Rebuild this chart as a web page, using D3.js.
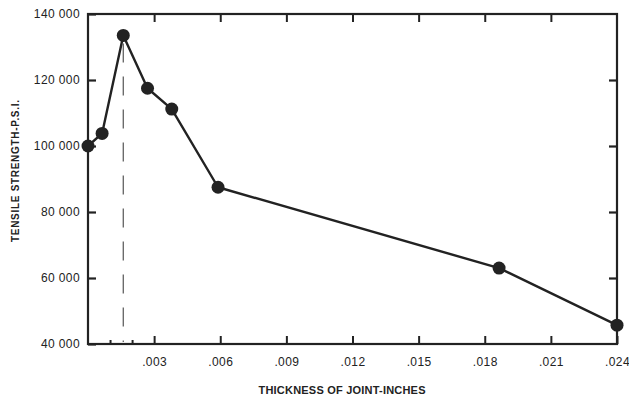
<!DOCTYPE html>
<html>
<head>
<meta charset="utf-8">
<script src="https://cdn.jsdelivr.net/npm/d3@7"></script>
<style>
  body { margin: 0; background: #fff; }
  text { font-family: "Liberation Sans", Arial, sans-serif; fill: #222; }
</style>
</head>
<body>
<div id="chart"></div>
<script>
// data
const thickness = [0, 0.00064, 0.0016, 0.0027, 0.0038, 0.0059, 0.01865, 0.024]
const strength = [100000, 103800, 133500, 117500, 111200, 87500, 63000, 45700]
const xTicks = [0.003, 0.006, 0.009, 0.012, 0.015, 0.018, 0.021, 0.024]
const xMinorTicks = [0.001, 0.002]
const yTicks = [40000, 60000, 80000, 100000, 120000, 140000]
const peakX = 0.0016

const width = 629, height = 396
const margin = [14, 12, 52, 88] // top right bottom left
const ink = "#222"

const x = d3.scaleLinear().domain([0, 0.024]).range([margin[3], width - margin[1]])
const y = d3.scaleLinear().domain([40000, 140000]).range([height - margin[2], margin[0]])

const svg = d3.select("#chart").append("svg")
  .attr("width", width)
  .attr("height", height)

const fmtY = d => d3.format(",")(d).replace(",", " ")
const fmtX = d => d3.format(".3f")(d).replace(/^0/, "")

// bottom axis, ticks point inward
svg.append("g")
  .attr("transform", `translate(0,${y(40000)})`)
  .call(d3.axisBottom(x).tickValues(xTicks).tickFormat(fmtX).tickSize(-8).tickSizeOuter(0).tickPadding(11))
  .call(g => g.select(".domain").remove())
  .call(g => g.selectAll(".tick line").attr("stroke", ink).attr("stroke-width", 2))
  .call(g => g.selectAll(".tick text").attr("font-size", 12).attr("letter-spacing", 0.4).attr("dy", "0.9em"))
svg.append("g")
  .attr("transform", `translate(0,${y(40000)})`)
  .call(d3.axisBottom(x).tickValues(xMinorTicks).tickFormat("").tickSize(-4).tickSizeOuter(0))
  .call(g => g.select(".domain").remove())
  .call(g => g.selectAll(".tick line").attr("stroke", ink).attr("stroke-width", 2))

// top ticks
svg.append("g")
  .attr("transform", `translate(0,${y(140000)})`)
  .call(d3.axisTop(x).tickValues(xTicks.slice(0, -1)).tickFormat("").tickSize(-8).tickSizeOuter(0))
  .call(g => g.select(".domain").remove())
  .call(g => g.selectAll(".tick line").attr("stroke", ink).attr("stroke-width", 2))

// left axis
svg.append("g")
  .attr("transform", `translate(${x(0)},0)`)
  .call(d3.axisLeft(y).tickValues(yTicks).tickFormat(fmtY).tickSize(-8).tickSizeOuter(0).tickPadding(8))
  .call(g => g.select(".domain").remove())
  .call(g => g.selectAll(".tick line").attr("stroke", ink).attr("stroke-width", 2.2))
  .call(g => g.selectAll(".tick text").attr("font-size", 12).attr("letter-spacing", 0.4))

// right ticks
svg.append("g")
  .attr("transform", `translate(${x(0.024)},0)`)
  .call(d3.axisRight(y).tickValues(yTicks.slice(1, -1)).tickFormat("").tickSize(-8).tickSizeOuter(0))
  .call(g => g.select(".domain").remove())
  .call(g => g.selectAll(".tick line").attr("stroke", ink).attr("stroke-width", 2.2))

// frame
svg.append("rect")
  .attr("x", x(0))
  .attr("y", y(140000))
  .attr("width", x(0.024) - x(0))
  .attr("height", y(40000) - y(140000))
  .attr("fill", "none")
  .attr("stroke", ink)
  .attr("stroke-width", 2.2)

// dashed drop line from the peak
svg.append("line")
  .attr("x1", x(peakX))
  .attr("x2", x(peakX))
  .attr("y1", y(strength[2]) + 8)
  .attr("y2", y(40000) - 2)
  .attr("stroke", "#555")
  .attr("stroke-width", 1.2)
  .attr("stroke-dasharray", "19,14")

const I = d3.range(thickness.length)
const line = d3.line()
  .x(i => x(thickness[i]))
  .y(i => y(strength[i]))

svg.append("path")
  .attr("d", line(I))
  .attr("fill", "none")
  .attr("stroke", ink)
  .attr("stroke-width", 2.4)
  .attr("stroke-linejoin", "round")

svg.append("g")
  .selectAll("circle")
  .data(I)
  .join("circle")
  .attr("cx", i => x(thickness[i]))
  .attr("cy", i => y(strength[i]))
  .attr("r", 6.5)
  .attr("fill", ink)

// axis titles
svg.append("text")
  .attr("x", 342)
  .attr("y", 394)
  .attr("text-anchor", "middle")
  .attr("font-size", 11)
  .attr("font-weight", "bold")
  .attr("textLength", 167)
  .text("THICKNESS OF JOINT-INCHES")

svg.append("text")
  .attr("transform", `translate(19,171) rotate(-90)`)
  .attr("text-anchor", "middle")
  .attr("font-size", 10)
  .attr("font-weight", "bold")
  .attr("textLength", 142)
  .text("TENSILE STRENGTH-P.S.I.")
</script>
</body>
</html>
